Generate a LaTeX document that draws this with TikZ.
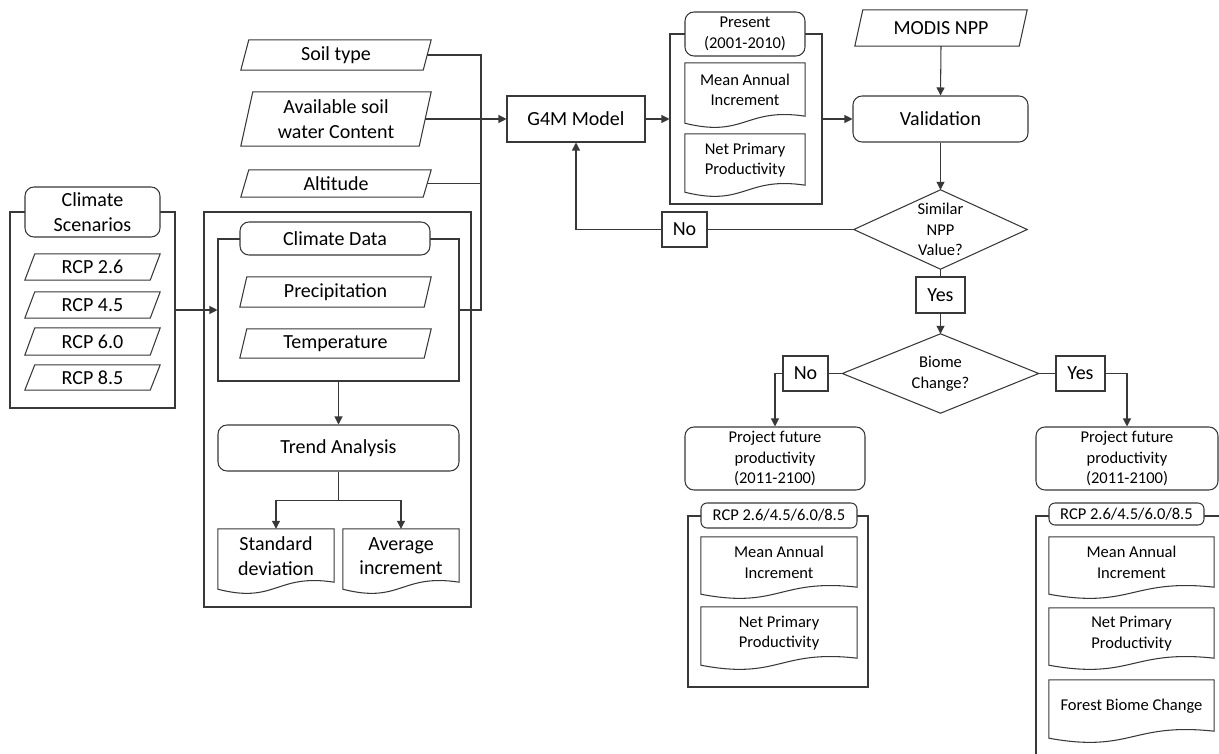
\documentclass[tikz,border=0pt]{standalone}
\usepackage{fontspec}
\setmainfont{Carlito}
\usetikzlibrary{arrows.meta,calc}
\newcommand\fbig{\fontsize{20}{24.5}\selectfont}
\newcommand\fsm{\fontsize{16.5}{20.5}\selectfont}
\tikzset{
 line/.style={draw=black!78, line width=1.05pt},
 box/.style={line, fill=white, rectangle, inner sep=0pt, align=center, font=\fbig},
 rbox/.style={box, rounded corners=9pt},
 frame/.style={line, rectangle, inner sep=0pt},
 plain/.style={inner sep=0pt, align=center, font=\fbig},
 arr/.style={line, -{Triangle[length=8pt,width=8pt]}},
}
\newcommand\nodebox[7]{\node[#1, minimum width={#5-#3}, minimum height={#6-#4}] (#2) at ({(#3+#5)/2},{(#4+#6)/2}) {#7};}
\newcommand\parashape[2]{\draw[line] ([xshift=#2]#1.north west) -- (#1.north east) -- ([xshift=-#2]#1.south east) -- (#1.south west) -- cycle;}
\newcommand\diamondshape[1]{\draw[line] (#1.north) -- (#1.east) -- (#1.south) -- (#1.west) -- cycle;}
\newcommand\docnode[7]{%
 \nodebox{plain}{#2}{#3}{#4}{#5}{#6}{}
 \draw[line, fill=white] (#2.north west) -- (#2.north east) -- ([yshift=11pt]#2.south east) .. controls ([yshift=20pt]#2.south) and ([yshift=-11pt]#2.south) .. ([yshift=4pt]#2.south west) -- cycle;
 \node[plain, font=#1] (#2-t) at ([yshift=5pt]#2.center) {#7};}
\begin{document}
\begin{tikzpicture}[x=1pt,y=-1pt]
\clip (0,0) rectangle (1219,754);
\fill[white] (0,0) rectangle (1219,754);
% Climate scenarios
\nodebox{frame}{csframe}{10}{212}{175}{408}{}
\nodebox{rbox}{cstitle}{25}{187}{160}{237}{Climate\\Scenarios}
\nodebox{plain}{rcp26}{25}{254}{160}{280}{RCP 2.6}\parashape{rcp26}{10pt}
\nodebox{plain}{rcp45}{25}{292}{160}{318}{RCP 4.5}\parashape{rcp45}{10pt}
\nodebox{plain}{rcp60}{25}{328}{160}{355}{RCP 6.0}\parashape{rcp60}{10pt}
\nodebox{plain}{rcp85}{25}{365}{160}{390}{RCP 8.5}\parashape{rcp85}{10pt}
% climate data block
\nodebox{frame}{bigframe}{204}{212}{471}{607}{}
\nodebox{frame}{cdframe}{218}{239}{459}{381}{}
\nodebox{rbox}{cdtitle}{240}{222}{430}{255}{Climate Data}
\nodebox{plain}{precip}{240}{277}{431}{307}{Precipitation}\parashape{precip}{7pt}
\nodebox{plain}{temp}{240}{329}{431}{358}{Temperature}\parashape{temp}{7pt}
\nodebox{rbox}{trend}{218}{425}{459}{471}{Trend Analysis}
\docnode{\fbig}{stddev}{218}{529}{334}{593}{Standard\\deviation}
\docnode{\fbig}{avginc}{343}{529}{459}{593}{Average\\increment}
% inputs
\nodebox{plain}{soil}{241}{40}{431}{70}{Soil type}\parashape{soil}{8pt}
\nodebox{plain}{asw}{241}{92}{431}{146}{Available soil\\water Content}\parashape{asw}{12pt}
\nodebox{plain}{alt}{241}{170}{431}{197}{Altitude}\parashape{alt}{8pt}
\nodebox{box}{g4m}{507}{96}{645}{142}{G4M Model}
% present
\nodebox{frame}{presframe}{670}{34}{822}{204}{}
\nodebox{rbox,font=\fsm}{prestitle}{685}{12}{805}{56}{Present\\(2001-2010)}
\docnode{\fsm}{mai1}{685}{63}{805}{127}{Mean Annual\\Increment}
\docnode{\fsm}{npp1}{685}{134}{805}{196}{Net Primary\\Productivity}
% validation
\nodebox{plain}{modis}{855}{10}{1027}{46}{MODIS NPP}\parashape{modis}{8pt}
\nodebox{rbox}{valid}{853}{96}{1028}{142}{Validation}
\nodebox{plain,font=\fsm}{sim}{854}{190}{1027}{269}{Similar\\NPP\\Value?}\diamondshape{sim}
\nodebox{box}{no1}{662}{212}{707}{247}{No}
\nodebox{box}{yes1}{916}{277}{965}{313}{Yes}
\nodebox{plain,font=\fsm}{biome}{842.5}{334}{1038.5}{413}{Biome\\Change?}\diamondshape{biome}
\nodebox{box}{no2}{783}{356}{828}{391}{No}
\nodebox{box}{yes2}{1056}{356}{1105}{391}{Yes}
% left projection
\nodebox{rbox,font=\fsm}{proj1}{685}{427}{865}{490}{Project future\\productivity\\(2011-2100)}
\nodebox{frame}{rcpframe1}{688}{516}{868}{687}{}
\nodebox{rbox,font=\fsm,rounded corners=6pt}{rcptitle1}{701}{503}{857}{528}{RCP 2.6/4.5/6.0/8.5}
\docnode{\fsm}{mai2}{701}{537}{857}{598}{Mean Annual\\Increment}
\docnode{\fsm}{npp2}{701}{607}{857}{669}{Net Primary\\Productivity}
% right projection
\nodebox{rbox,font=\fsm}{proj2}{1036}{427}{1218}{490}{Project future\\productivity\\(2011-2100)}
\nodebox{frame}{rcpframe2}{1036}{516}{1240}{775}{}
\nodebox{rbox,font=\fsm,rounded corners=6pt}{rcptitle2}{1049}{503}{1204}{525}{RCP 2.6/4.5/6.0/8.5}
\docnode{\fsm}{mai3}{1049}{537}{1214}{598}{Mean Annual\\Increment}
\docnode{\fsm}{npp3}{1049}{608}{1214}{669}{Net Primary\\Productivity}
\docnode{\fsm}{forest}{1049}{680}{1214}{742}{Forest Biome Change}
% connectors
\draw[arr] (csframe.east) -- (cdframe.west);
\draw[arr] (cdframe.south) -- (trend.north);
\draw[arr] (trend.south) -- ++(0,29) -| (stddev.north);
\draw[arr] (trend.south) -- ++(0,29) -| (avginc.north);
\coordinate (jn) at (481,119);
\draw[line] ([xshift=-4pt]soil.east) -| (jn);
\draw[line] ([xshift=-4pt]alt.east) -| (jn);
\draw[line] (cdframe.east) -| (jn);
\draw[arr] ([xshift=-6pt]asw.east) -- (g4m.west);
\draw[arr] (g4m.east) -- (presframe.west);
\draw[arr] (presframe.east) -- (valid.west);
\draw[arr] (modis.south) -- (valid.north);
\draw[arr] (valid.south) -- (sim.north);
\draw[line] (sim.west) -- (no1.east);
\draw[arr] (no1.west) -| (g4m.south);
\draw[line] (sim.south) -- (yes1.north);
\draw[arr] (yes1.south) -- (biome.north);
\draw[line] (biome.west) -- (no2.east);
\draw[arr] (no2.west) -| (proj1.north);
\draw[line] (biome.east) -- (yes2.west);
\draw[arr] (yes2.east) -| (proj2.north);
\end{tikzpicture}
\end{document}
